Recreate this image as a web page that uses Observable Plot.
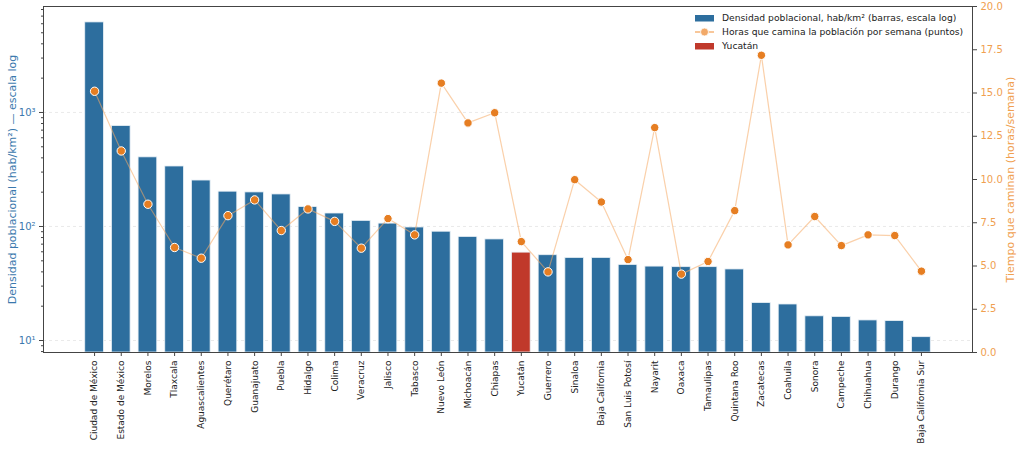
<!DOCTYPE html>
<html>
<head>
<meta charset="utf-8">
<script src="https://cdn.jsdelivr.net/npm/d3@7"></script>
<script src="https://cdn.jsdelivr.net/npm/@observablehq/plot@0.6"></script>
<style>
  html, body { margin: 0; padding: 0; background: #fff; }
  #wrap { position: relative; width: 1024px; height: 456px; font-family: "DejaVu Sans", sans-serif; }
  #wrap svg { position: absolute; left: 0; top: 0; }
  #legend { position: absolute; left: 695px; top: 11px; font-size: 9.2px; color: #222; line-height: 14px; }
  #legend .row { display: flex; align-items: center; height: 14px; }
  #legend .sw { width: 19px; height: 14px; margin-right: 8px; position: relative; }
</style>
</head>
<body>
<div id="wrap"></div>
<script>
const states = ["Ciudad de México","Estado de México","Morelos","Tlaxcala","Aguascalientes","Querétaro","Guanajuato","Puebla","Hidalgo","Colima","Veracruz","Jalisco","Tabasco","Nuevo León","Michoacán","Chiapas","Yucatán","Guerrero","Sinaloa","Baja California","San Luis Potosí","Nayarit","Oaxaca","Tamaulipas","Quintana Roo","Zacatecas","Coahuila","Sonora","Campeche","Chihuahua","Durango","Baja California Sur"];
const density = [6163, 760, 404, 336, 253, 202, 199, 191, 148, 130, 112, 106, 98, 90, 81, 77, 59, 56, 53, 53, 46, 44.5, 44, 44, 42, 21.3, 20.7, 16.3, 16.1, 15, 14.8, 10.7];
const hours = [15.1, 11.65, 8.57, 6.07, 5.45, 7.91, 8.82, 7.05, 8.3, 7.58, 6.03, 7.74, 6.8, 15.57, 13.27, 13.86, 6.41, 4.66, 9.99, 8.7, 5.37, 13.0, 4.53, 5.26, 8.2, 17.18, 6.22, 7.86, 6.18, 6.8, 6.76, 4.7];
const highlight = "Yucatán";
const logTicks = [10, 100, 1000];
const logTickLabels = ["10¹", "10²", "10³"];
const hourTicks = [0, 2.5, 5, 7.5, 10, 12.5, 15, 17.5, 20];
const yLeftLabel = "Densidad poblacional (hab/km²) — escala log";
const yRightLabel = "Tiempo que caminan (horas/semana)";
const legendItems = ["Densidad poblacional, hab/km² (barras, escala log)", "Horas que camina la población por semana (puntos)", "Yucatán"];

const blue = "#2d6e9e", red = "#c0392b", orange = "#e67e22";
const blueText = "#3a78ad", orangeText = "#f0a050";

const data = states.map((s, i) => ({state: s, density: density[i], hours: hours[i]}));
const yMin = 7.85, yMax = 8500;
const minor = [];
for (const base of [1, 10, 100, 1000]) for (let k = 2; k <= 9; k++) { const v = base * k; if (v > yMin && v < yMax) minor.push(v); }

const common = {
  width: 1024, height: 456,
  marginLeft: 43, marginRight: 52, marginTop: 6, marginBottom: 104,
  x: {type: "band", domain: states, paddingInner: 0.3, paddingOuter: 1.565, align: 0.5, round: false},
  style: {fontFamily: "DejaVu Sans", background: "transparent", overflow: "visible"}
};

const chart1 = Plot.plot({
  ...common,
  y: {type: "log", domain: [yMin, yMax], label: null},
  marks: [
    Plot.ruleY(logTicks, {stroke: "#e4e4e4", strokeDasharray: "3,3", strokeWidth: 0.8}),
    Plot.barY(data, {x: "state", y1: yMin, y2: "density", fill: d => d.state === highlight ? red : blue, stroke: "#e8f0f6", strokeWidth: 0.8}),
    Plot.axisY({ticks: minor, tickSize: 2, text: null, stroke: "#444", label: null}),
    Plot.axisY({ticks: logTicks, tickFormat: d => logTickLabels[logTicks.indexOf(d)], tickSize: 4, tickPadding: 4, fontSize: 10, color: blueText, stroke: "#444", label: null}),
    Plot.axisX({tickRotate: -90, fontSize: 9, tickSize: 4, tickPadding: 4, label: null, color: "#222", stroke: "#444"}),
    Plot.text([yLeftLabel], {frameAnchor: "left", textAnchor: "middle", dx: -31, rotate: -90, fontSize: 11, fill: blueText}),
    Plot.frame({stroke: "#444"})
  ]
});

const chart2 = Plot.plot({
  ...common,
  x: {...common.x, axis: null},
  y: {domain: [0, 20], label: null},
  marks: [
    Plot.line(data, {x: "state", y: "hours", stroke: "#f5a964", strokeOpacity: 0.55, strokeWidth: 1.2}),
    Plot.dot(data, {x: "state", y: "hours", r: 4.2, fill: orange, stroke: "white", strokeWidth: 1}),
    Plot.axisY({anchor: "right", ticks: hourTicks, tickFormat: d3.format(".1f"), tickSize: 4, tickPadding: 4, fontSize: 10, color: orangeText, stroke: "#444", label: null}),
    Plot.text([yRightLabel], {frameAnchor: "right", textAnchor: "middle", dx: 38, rotate: -90, fontSize: 11, fill: orangeText})
  ]
});

const wrap = document.getElementById("wrap");
wrap.appendChild(chart1);
wrap.appendChild(chart2);

const legend = document.createElement("div");
legend.id = "legend";
const swatches = [
  `<svg width="19" height="14"><rect x="0" y="4" width="19" height="6.5" fill="${blue}"/></svg>`,
  `<svg width="19" height="14"><line x1="0" x2="19" y1="7" y2="7" stroke="#f5a964" stroke-width="1.3"/><circle cx="9.5" cy="7" r="4" fill="#f2a968" stroke="white" stroke-width="0.8"/></svg>`,
  `<svg width="19" height="14"><rect x="0" y="4" width="19" height="6.5" fill="${red}"/></svg>`
];
legendItems.forEach((t, i) => {
  const row = document.createElement("div");
  row.className = "row";
  row.innerHTML = `<span class="sw">${swatches[i]}</span><span>${t}</span>`;
  legend.appendChild(row);
});
wrap.appendChild(legend);
</script>
</body>
</html>
